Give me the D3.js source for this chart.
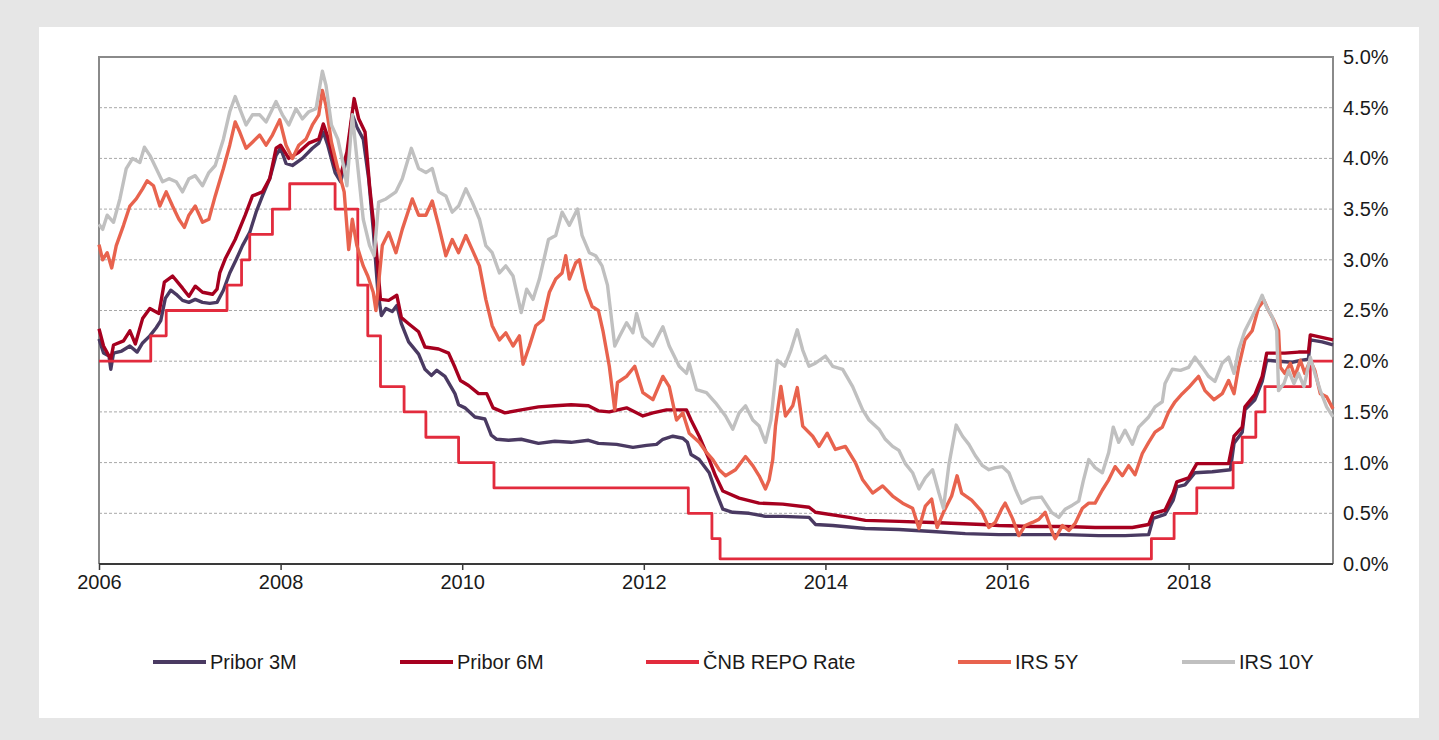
<!DOCTYPE html>
<html>
<head>
<meta charset="utf-8">
<script src="https://cdn.jsdelivr.net/npm/d3@7"></script>
<style>
  html, body { margin: 0; padding: 0; background: #e6e6e6; }
  svg { display: block; font-family: "Liberation Sans", Arial, sans-serif; }
</style>
</head>
<body>
<svg id="chart" width="1439" height="740"></svg>
<script>
// Czech interest rates, 2006 – mid 2019 (values in %, time in decimal years)
const seriesNames = ["Pribor 3M", "Pribor 6M", "ČNB REPO Rate", "IRS 5Y", "IRS 10Y"];
const seriesColors = ["#4a3a62", "#a6001f", "#e22b3d", "#e8634e", "#c0c0c0"];

const yTicks = [0, 0.5, 1, 1.5, 2, 2.5, 3, 3.5, 4, 4.5, 5];
const xTicks = [2006, 2008, 2010, 2012, 2014, 2016, 2018];

const pribor3m = [
  [2006.00,2.22],[2006.05,2.08],[2006.11,2.05],[2006.13,1.92],[2006.16,2.08],[2006.25,2.10],
  [2006.34,2.15],[2006.42,2.09],[2006.48,2.18],[2006.56,2.25],[2006.63,2.33],[2006.68,2.40],
  [2006.73,2.62],[2006.79,2.70],[2006.85,2.66],[2006.92,2.60],[2006.99,2.58],[2007.06,2.61],
  [2007.14,2.58],[2007.22,2.57],[2007.30,2.58],[2007.37,2.70],[2007.44,2.87],[2007.51,3.00],
  [2007.58,3.14],[2007.66,3.27],[2007.73,3.47],[2007.80,3.63],[2007.88,3.80],[2007.95,4.03],
  [2008.00,4.10],[2008.06,3.95],[2008.13,3.93],[2008.24,4.00],[2008.35,4.10],[2008.42,4.15],
  [2008.47,4.26],[2008.52,4.13],[2008.60,3.86],[2008.66,3.77],[2008.73,4.00],[2008.79,4.43],
  [2008.84,4.31],[2008.91,4.19],[2008.97,3.80],[2009.02,3.30],[2009.07,2.70],[2009.11,2.45],
  [2009.16,2.52],[2009.23,2.49],[2009.28,2.55],[2009.33,2.37],[2009.41,2.19],[2009.52,2.07],
  [2009.59,1.92],[2009.66,1.86],[2009.72,1.91],[2009.81,1.85],[2009.92,1.68],[2009.96,1.57],
  [2010.03,1.54],[2010.14,1.45],[2010.25,1.43],[2010.32,1.27],[2010.38,1.23],[2010.51,1.22],
  [2010.65,1.23],[2010.84,1.19],[2011.02,1.21],[2011.20,1.20],[2011.39,1.22],[2011.50,1.19],
  [2011.70,1.18],[2011.88,1.15],[2012.03,1.17],[2012.14,1.18],[2012.21,1.23],[2012.32,1.26],
  [2012.43,1.24],[2012.48,1.20],[2012.52,1.08],[2012.61,1.03],[2012.72,0.90],[2012.79,0.72],
  [2012.87,0.54],[2012.98,0.51],[2013.16,0.50],[2013.34,0.47],[2013.53,0.47],[2013.82,0.46],
  [2013.89,0.39],[2014.08,0.38],[2014.44,0.35],[2014.81,0.34],[2015.18,0.32],[2015.54,0.30],
  [2015.91,0.29],[2016.28,0.29],[2016.64,0.29],[2017.01,0.28],[2017.30,0.28],[2017.56,0.29],
  [2017.61,0.45],[2017.74,0.49],[2017.83,0.63],[2017.87,0.76],[2017.96,0.78],[2018.07,0.90],
  [2018.26,0.91],[2018.46,0.93],[2018.50,1.19],[2018.59,1.30],[2018.62,1.52],[2018.73,1.62],
  [2018.81,1.80],[2018.86,2.01],[2018.99,2.00],[2019.14,1.99],[2019.25,2.01],[2019.32,2.02],
  [2019.34,2.21],[2019.47,2.19],[2019.59,2.16]
];

const pribor6m = [
  [2006.00,2.32],[2006.05,2.15],[2006.11,2.05],[2006.13,2.02],[2006.16,2.16],[2006.27,2.20],
  [2006.34,2.30],[2006.40,2.17],[2006.48,2.42],[2006.56,2.52],[2006.66,2.47],[2006.72,2.78],
  [2006.81,2.84],[2006.92,2.72],[2006.99,2.64],[2007.06,2.74],[2007.14,2.68],[2007.25,2.66],
  [2007.30,2.71],[2007.33,2.87],[2007.39,3.01],[2007.50,3.20],[2007.61,3.44],[2007.69,3.63],
  [2007.80,3.67],[2007.88,3.80],[2007.95,4.10],[2008.00,4.13],[2008.09,4.00],[2008.20,4.06],
  [2008.31,4.15],[2008.42,4.19],[2008.47,4.34],[2008.52,4.21],[2008.60,3.93],[2008.66,3.83],
  [2008.73,4.06],[2008.81,4.59],[2008.86,4.39],[2008.93,4.26],[2008.98,3.73],[2009.05,3.14],
  [2009.10,2.61],[2009.19,2.60],[2009.28,2.65],[2009.33,2.43],[2009.41,2.37],[2009.52,2.29],
  [2009.59,2.14],[2009.74,2.12],[2009.85,2.08],[2009.92,1.94],[2009.98,1.81],[2010.07,1.76],
  [2010.18,1.68],[2010.27,1.68],[2010.34,1.54],[2010.47,1.49],[2010.65,1.52],[2010.84,1.55],
  [2011.02,1.56],[2011.20,1.57],[2011.39,1.56],[2011.50,1.51],[2011.62,1.50],[2011.81,1.54],
  [2011.99,1.46],[2012.10,1.49],[2012.25,1.52],[2012.47,1.52],[2012.52,1.42],[2012.61,1.26],
  [2012.72,1.03],[2012.79,0.87],[2012.87,0.72],[2013.05,0.65],[2013.27,0.60],[2013.53,0.59],
  [2013.82,0.56],[2013.89,0.51],[2014.26,0.46],[2014.44,0.43],[2014.81,0.42],[2015.18,0.41],
  [2015.73,0.39],[2015.91,0.38],[2016.27,0.37],[2016.64,0.37],[2016.97,0.36],[2017.38,0.36],
  [2017.56,0.39],[2017.61,0.50],[2017.74,0.53],[2017.83,0.70],[2017.87,0.81],[2018.00,0.85],
  [2018.09,0.99],[2018.44,0.99],[2018.50,1.26],[2018.59,1.35],[2018.62,1.55],[2018.73,1.67],
  [2018.81,1.85],[2018.86,2.08],[2019.06,2.08],[2019.21,2.09],[2019.32,2.09],[2019.34,2.26],
  [2019.59,2.21]
];

// ČNB two-week repo rate: decision dates and new rate
const repoRate = [
  [2006.00,2.00],[2006.57,2.25],[2006.74,2.50],[2007.41,2.75],[2007.57,3.00],[2007.66,3.25],
  [2007.91,3.50],[2008.10,3.75],[2008.60,3.50],[2008.85,2.75],[2008.96,2.25],[2009.10,1.75],
  [2009.36,1.50],[2009.60,1.25],[2009.96,1.00],[2010.35,0.75],[2012.49,0.50],[2012.75,0.25],
  [2012.84,0.05],[2017.59,0.25],[2017.84,0.50],[2018.09,0.75],[2018.49,1.00],[2018.59,1.25],
  [2018.74,1.50],[2018.84,1.75],[2019.34,2.00],[2019.59,2.00]
];

const irs5y = [
  [2006.00,3.15],[2006.04,3.00],[2006.09,3.07],[2006.14,2.92],[2006.19,3.14],[2006.27,3.34],
  [2006.34,3.53],[2006.41,3.60],[2006.48,3.70],[2006.53,3.78],[2006.60,3.73],[2006.67,3.53],
  [2006.74,3.67],[2006.81,3.53],[2006.88,3.40],[2006.94,3.32],[2006.99,3.44],[2007.06,3.53],
  [2007.14,3.37],[2007.21,3.40],[2007.28,3.63],[2007.37,3.90],[2007.44,4.13],[2007.50,4.36],
  [2007.55,4.26],[2007.62,4.10],[2007.69,4.16],[2007.77,4.23],[2007.84,4.13],[2007.91,4.23],
  [2007.99,4.38],[2008.06,4.13],[2008.13,4.00],[2008.20,4.13],[2008.28,4.19],[2008.35,4.33],
  [2008.42,4.43],[2008.46,4.67],[2008.50,4.52],[2008.56,4.16],[2008.63,3.90],[2008.70,3.67],
  [2008.75,3.10],[2008.79,3.40],[2008.84,3.14],[2008.91,2.94],[2008.96,2.84],[2009.02,2.68],
  [2009.05,2.50],[2009.12,3.14],[2009.19,3.27],[2009.27,3.07],[2009.34,3.30],[2009.45,3.60],
  [2009.52,3.44],[2009.60,3.44],[2009.67,3.58],[2009.74,3.34],[2009.82,3.04],[2009.89,3.20],
  [2009.96,3.07],[2010.04,3.24],[2010.11,3.10],[2010.19,2.94],[2010.26,2.61],[2010.33,2.35],
  [2010.41,2.21],[2010.48,2.28],[2010.56,2.15],[2010.63,2.25],[2010.67,1.97],[2010.74,2.15],
  [2010.81,2.35],[2010.89,2.41],[2010.96,2.68],[2011.03,2.81],[2011.10,2.87],[2011.14,3.04],
  [2011.18,2.81],[2011.25,2.97],[2011.29,3.00],[2011.36,2.71],[2011.43,2.54],[2011.50,2.50],
  [2011.55,2.30],[2011.62,1.95],[2011.68,1.52],[2011.71,1.79],[2011.81,1.85],[2011.90,1.95],
  [2011.99,1.69],[2012.10,1.62],[2012.21,1.85],[2012.28,1.75],[2012.36,1.42],[2012.43,1.49],
  [2012.50,1.29],[2012.61,1.20],[2012.69,1.10],[2012.76,1.03],[2012.83,0.93],[2012.90,0.87],
  [2013.01,0.93],[2013.12,1.06],[2013.20,0.97],[2013.27,0.87],[2013.34,0.74],[2013.38,0.83],
  [2013.42,1.03],[2013.45,1.36],[2013.51,1.75],[2013.56,1.46],[2013.64,1.56],[2013.69,1.74],
  [2013.75,1.36],[2013.86,1.26],[2013.93,1.16],[2014.02,1.29],[2014.11,1.13],[2014.22,1.16],
  [2014.33,1.00],[2014.41,0.83],[2014.52,0.70],[2014.63,0.77],[2014.74,0.67],[2014.85,0.60],
  [2014.96,0.55],[2015.03,0.35],[2015.10,0.57],[2015.17,0.64],[2015.23,0.36],[2015.30,0.51],
  [2015.39,0.67],[2015.45,0.87],[2015.50,0.70],[2015.61,0.63],[2015.72,0.52],[2015.80,0.36],
  [2015.87,0.41],[2015.94,0.54],[2015.98,0.60],[2016.06,0.45],[2016.13,0.28],[2016.20,0.38],
  [2016.28,0.41],[2016.35,0.44],[2016.42,0.51],[2016.50,0.31],[2016.53,0.25],[2016.61,0.38],
  [2016.68,0.33],[2016.75,0.40],[2016.83,0.55],[2016.90,0.60],[2016.97,0.60],[2017.05,0.73],
  [2017.12,0.83],[2017.19,0.96],[2017.27,0.87],[2017.34,0.97],[2017.41,0.88],[2017.49,1.09],
  [2017.56,1.20],[2017.63,1.30],[2017.71,1.35],[2017.78,1.50],[2017.85,1.60],[2017.93,1.68],
  [2018.00,1.74],[2018.07,1.81],[2018.11,1.85],[2018.18,1.71],[2018.28,1.62],[2018.37,1.68],
  [2018.44,1.81],[2018.50,1.68],[2018.55,1.94],[2018.62,2.21],[2018.70,2.30],[2018.77,2.53],
  [2018.83,2.60],[2018.88,2.50],[2018.94,2.40],[2018.99,2.30],[2019.01,1.94],[2019.06,1.88],
  [2019.12,1.98],[2019.17,1.85],[2019.23,2.01],[2019.28,1.88],[2019.34,2.01],[2019.39,1.91],
  [2019.45,1.68],[2019.52,1.65],[2019.59,1.53]
];

const irs10y = [
  [2006.00,3.35],[2006.04,3.30],[2006.09,3.44],[2006.16,3.37],[2006.23,3.60],[2006.30,3.90],
  [2006.37,4.00],[2006.45,3.96],[2006.50,4.11],[2006.56,4.03],[2006.63,3.90],[2006.70,3.77],
  [2006.77,3.80],[2006.85,3.77],[2006.92,3.67],[2006.99,3.80],[2007.06,3.83],[2007.14,3.73],
  [2007.21,3.86],[2007.28,3.93],[2007.37,4.19],[2007.44,4.46],[2007.50,4.61],[2007.55,4.49],
  [2007.62,4.33],[2007.69,4.43],[2007.77,4.43],[2007.84,4.36],[2007.95,4.56],[2008.02,4.43],
  [2008.09,4.33],[2008.17,4.49],[2008.24,4.39],[2008.31,4.46],[2008.39,4.49],[2008.46,4.86],
  [2008.50,4.72],[2008.56,4.33],[2008.63,4.19],[2008.70,3.90],[2008.73,3.73],[2008.79,4.43],
  [2008.84,4.00],[2008.91,3.40],[2008.98,3.14],[2009.03,3.04],[2009.08,3.57],[2009.16,3.60],
  [2009.27,3.67],[2009.34,3.80],[2009.44,4.10],[2009.52,3.90],[2009.60,3.86],[2009.67,3.90],
  [2009.74,3.67],[2009.82,3.63],[2009.89,3.47],[2009.96,3.53],[2010.04,3.70],[2010.11,3.57],
  [2010.19,3.40],[2010.26,3.14],[2010.33,3.07],[2010.41,2.87],[2010.48,2.94],[2010.56,2.84],
  [2010.65,2.48],[2010.71,2.71],[2010.78,2.61],[2010.85,2.81],[2010.95,3.20],[2011.03,3.24],
  [2011.10,3.47],[2011.18,3.34],[2011.27,3.50],[2011.32,3.24],[2011.40,3.07],[2011.47,3.04],
  [2011.54,2.94],[2011.60,2.75],[2011.68,2.15],[2011.73,2.24],[2011.81,2.38],[2011.88,2.28],
  [2011.92,2.47],[2011.99,2.24],[2012.10,2.15],[2012.21,2.34],[2012.28,2.15],[2012.39,1.95],
  [2012.47,1.88],[2012.50,1.98],[2012.58,1.72],[2012.69,1.69],[2012.79,1.59],[2012.90,1.46],
  [2012.98,1.33],[2013.05,1.49],[2013.12,1.56],[2013.20,1.42],[2013.27,1.36],[2013.34,1.20],
  [2013.40,1.42],[2013.47,2.01],[2013.55,1.95],[2013.62,2.11],[2013.69,2.31],[2013.75,2.11],
  [2013.82,1.95],[2013.89,1.98],[2014.00,2.05],[2014.08,1.95],[2014.19,1.92],[2014.30,1.75],
  [2014.41,1.52],[2014.48,1.42],[2014.59,1.33],[2014.66,1.23],[2014.74,1.16],[2014.81,1.12],
  [2014.88,0.99],[2014.96,0.90],[2015.03,0.74],[2015.10,0.85],[2015.18,0.93],[2015.25,0.70],
  [2015.30,0.55],[2015.36,0.98],[2015.44,1.37],[2015.51,1.26],[2015.58,1.18],[2015.65,1.07],
  [2015.73,0.97],[2015.80,0.93],[2015.87,0.95],[2015.95,0.96],[2016.02,0.90],[2016.09,0.74],
  [2016.16,0.60],[2016.27,0.65],[2016.38,0.66],[2016.49,0.51],[2016.57,0.46],[2016.64,0.54],
  [2016.72,0.58],[2016.79,0.62],[2016.84,0.82],[2016.90,1.03],[2016.97,0.95],[2017.05,0.90],
  [2017.12,1.10],[2017.17,1.35],[2017.23,1.20],[2017.30,1.32],[2017.38,1.18],[2017.45,1.35],
  [2017.56,1.45],[2017.63,1.55],[2017.71,1.60],[2017.74,1.78],[2017.82,1.92],[2017.91,1.91],
  [2018.00,1.94],[2018.07,2.04],[2018.15,1.94],[2018.22,1.85],[2018.29,1.80],[2018.37,1.98],
  [2018.44,2.04],[2018.50,1.88],[2018.55,2.11],[2018.62,2.30],[2018.70,2.44],[2018.77,2.57],
  [2018.81,2.65],[2018.86,2.53],[2018.92,2.44],[2018.97,2.30],[2018.99,1.71],[2019.05,1.78],
  [2019.10,1.91],[2019.16,1.78],[2019.21,1.88],[2019.27,1.75],[2019.34,2.04],[2019.39,1.88],
  [2019.45,1.71],[2019.52,1.55],[2019.59,1.45]
];

const seriesData = [pribor3m, pribor6m, repoRate, irs5y, irs10y];

// ---- layout ----
const svg = d3.select("#chart");
const plot = { left: 99, right: 1333, top: 57, bottom: 564 };
const labelFont = 20;

// white card
svg.append("rect").attr("x", 39).attr("y", 27).attr("width", 1380).attr("height", 691).attr("fill", "#ffffff");

const x = d3.scaleLinear().domain([2006, 2019.59]).range([plot.left, plot.right]);
const y = d3.scaleLinear().domain([0, 5]).range([plot.bottom, plot.top]);

// horizontal dashed grid
svg.append("g")
  .selectAll("line")
  .data(yTicks.filter(v => v > 0 && v < 5))
  .join("line")
  .attr("x1", plot.left).attr("x2", plot.right)
  .attr("y1", d => y(d)).attr("y2", d => y(d))
  .attr("stroke", "#a8a8a8").attr("stroke-width", 1).attr("stroke-dasharray", "3,2");

// plot frame (left, top, right)
svg.append("path")
  .attr("d", `M${plot.left},${plot.bottom}V${plot.top}H${plot.right}V${plot.bottom}`)
  .attr("fill", "none").attr("stroke", "#8a8a8a").attr("stroke-width", 2);

// series lines
const line = d3.line().x(d => x(d[0])).y(d => y(d[1]));
const stepLine = d3.line().x(d => x(d[0])).y(d => y(d[1])).curve(d3.curveStepAfter);

svg.append("g")
  .selectAll("path")
  .data(seriesData)
  .join("path")
  .attr("d", (d, i) => (i === 2 ? stepLine(d) : line(d)))
  .attr("fill", "none")
  .attr("stroke", (d, i) => seriesColors[i])
  .attr("stroke-width", (d, i) => (i === 2 ? 2.8 : 3.4))
  .attr("stroke-linejoin", "round");

// x axis
const xAxis = svg.append("g")
  .attr("transform", `translate(0,${plot.bottom})`)
  .call(d3.axisBottom(x).tickValues(xTicks).tickFormat(d3.format("d")).tickSize(6).tickPadding(5));
xAxis.select(".domain").attr("stroke", "#3a3a3a").attr("stroke-width", 2)
  .attr("d", `M${plot.left},0H${plot.right}`);
xAxis.selectAll(".tick line").attr("stroke", "#3a3a3a").attr("stroke-width", 1.5);
xAxis.selectAll(".tick text")
  .attr("font-size", labelFont).attr("fill", "#1a1a1a")
  .attr("font-family", "Liberation Sans, Arial, sans-serif");

// right value axis
const yAxis = svg.append("g")
  .attr("transform", `translate(${plot.right},0)`)
  .call(d3.axisRight(y).tickValues(yTicks).tickFormat(d => d.toFixed(1) + "%").tickSize(0).tickPadding(10));
yAxis.select(".domain").remove();
yAxis.selectAll(".tick text")
  .attr("font-size", labelFont).attr("fill", "#1a1a1a")
  .attr("font-family", "Liberation Sans, Arial, sans-serif");

// legend
const legendX = [153, 400, 646, 958, 1182];
const legend = svg.append("g").attr("transform", "translate(0,662)");
const item = legend.selectAll("g").data(seriesNames).join("g")
  .attr("transform", (d, i) => `translate(${legendX[i]},0)`);
item.append("line")
  .attr("x1", 0).attr("x2", 53).attr("y1", 0).attr("y2", 0)
  .attr("stroke", (d, i) => seriesColors[i]).attr("stroke-width", 4);
item.append("text")
  .attr("x", 57).attr("y", 0).attr("dy", "0.35em")
  .attr("font-size", labelFont).attr("fill", "#1a1a1a")
  .text(d => d);
</script>
</body>
</html>
